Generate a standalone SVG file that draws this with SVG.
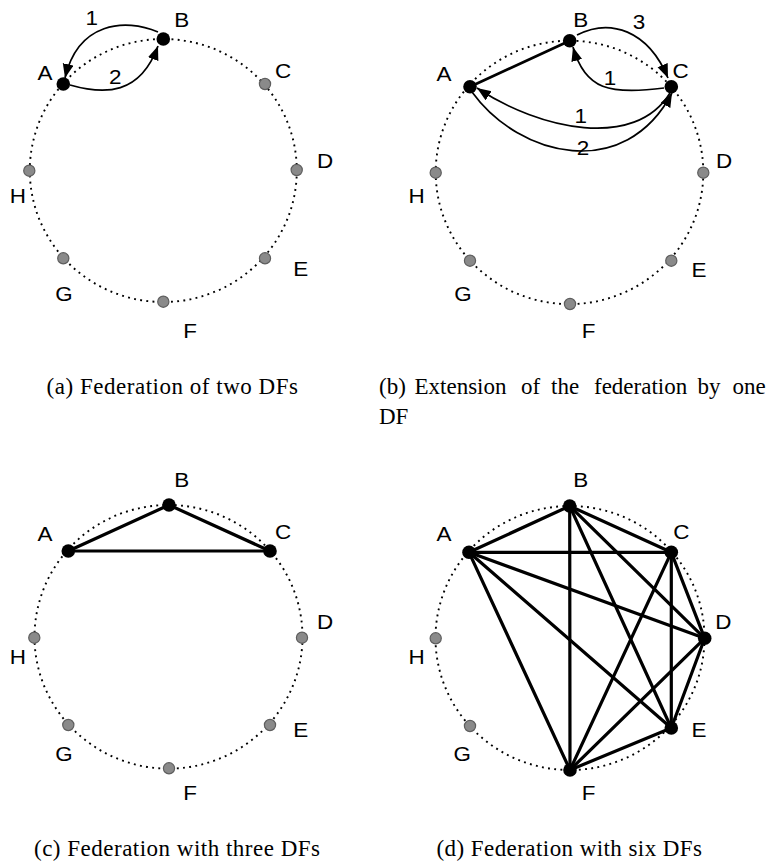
<svg xmlns="http://www.w3.org/2000/svg" width="768" height="862" viewBox="0 0 768 862">
<defs>
<marker id="ah" markerUnits="userSpaceOnUse" markerWidth="16" markerHeight="12" refX="14" refY="5.5" orient="auto">
<path d="M0,0 L14,5.5 L0,11 z" fill="#000"/>
</marker>
<style>
.ring{fill:none;stroke:#000;stroke-width:1.9;stroke-dasharray:1.9 4.3}
.gn{fill:#8a8a8a;stroke:#5e5e5e;stroke-width:1.2}
.bn{fill:#000}
.lbl{font-family:"Liberation Sans",Arial,Helvetica,sans-serif;font-size:19.5px;text-anchor:middle;fill:#000}
.cap{font-family:"Liberation Serif","Times New Roman",serif;font-size:23px;fill:#000}
.arc{fill:none;stroke:#000;stroke-width:1.7;marker-end:url(#ah)}
.thick{stroke:#000;stroke-width:3.2;stroke-linecap:round;fill:none}
</style>
</defs>
<rect width="768" height="862" fill="#fff"/>

<g id="rings">
<ellipse class="ring" cx="163.3" cy="170.5" rx="133.5" ry="131.5"/>
<ellipse class="ring" cx="569.5" cy="172.4" rx="133.8" ry="131.7"/>
<ellipse class="ring" cx="168.5" cy="636.8" rx="134" ry="131.8"/>
<ellipse class="ring" cx="570" cy="638" rx="134.5" ry="132"/>
</g>

<g id="connectors">
<path class="arc" d="M158,32 C125,18 78,22 65,78"/>
<path class="arc" d="M70,85 C105,95 140,95 158,46"/>
<line class="thick" x1="470" y1="86.7" x2="569.7" y2="40.7" style="stroke-width:2.8"/>
<path class="arc" d="M577,35 C610,18 648,30 668,78"/>
<path class="arc" d="M664,88 C610,95 585,90 573,47"/>
<path class="arc" d="M670,93 C635,150 540,130 477,88"/>
<path class="arc" d="M472,92 C520,158 625,182 672,93"/>
<line class="thick" x1="68.3" y1="551" x2="169" y2="505"/>
<line class="thick" x1="169" y1="505" x2="270" y2="551"/>
<line class="thick" x1="68.3" y1="551" x2="270" y2="551"/>
<line class="thick" x1="469" y1="552.3" x2="569.7" y2="506"/>
<line class="thick" x1="469" y1="552.3" x2="671.3" y2="552.3"/>
<line class="thick" x1="469" y1="552.3" x2="704.7" y2="638.3"/>
<line class="thick" x1="469" y1="552.3" x2="671.3" y2="728"/>
<line class="thick" x1="469" y1="552.3" x2="570" y2="770"/>
<line class="thick" x1="569.7" y1="506" x2="671.3" y2="552.3"/>
<line class="thick" x1="569.7" y1="506" x2="704.7" y2="638.3"/>
<line class="thick" x1="569.7" y1="506" x2="671.3" y2="728"/>
<line class="thick" x1="569.7" y1="506" x2="570" y2="770"/>
<line class="thick" x1="671.3" y1="552.3" x2="704.7" y2="638.3"/>
<line class="thick" x1="671.3" y1="552.3" x2="671.3" y2="728"/>
<line class="thick" x1="671.3" y1="552.3" x2="570" y2="770"/>
<line class="thick" x1="704.7" y1="638.3" x2="671.3" y2="728"/>
<line class="thick" x1="704.7" y1="638.3" x2="570" y2="770"/>
<line class="thick" x1="671.3" y1="728" x2="570" y2="770"/>
</g>

<g id="edge-labels">
<text class="lbl" x="91.7" y="25" textLength="12.5" lengthAdjust="spacingAndGlyphs">1</text>
<text class="lbl" x="115.3" y="84" textLength="12.5" lengthAdjust="spacingAndGlyphs">2</text>
<text class="lbl" x="639" y="29.3" textLength="12.5" lengthAdjust="spacingAndGlyphs">3</text>
<text class="lbl" x="610" y="85" textLength="12.5" lengthAdjust="spacingAndGlyphs">1</text>
<text class="lbl" x="580.7" y="123.3" textLength="12.5" lengthAdjust="spacingAndGlyphs">1</text>
<text class="lbl" x="583" y="155" textLength="12.5" lengthAdjust="spacingAndGlyphs">2</text>
</g>

<g id="a-A"><circle class="bn" cx="63.3" cy="84" r="6.8"/><text class="lbl" x="45" y="80" textLength="15" lengthAdjust="spacingAndGlyphs">A</text></g>
<g id="a-B"><circle class="bn" cx="163.3" cy="39" r="6.8"/><text class="lbl" x="181.7" y="26.7" textLength="15" lengthAdjust="spacingAndGlyphs">B</text></g>
<g id="a-C"><circle class="gn" cx="265" cy="84" r="5.6"/><text class="lbl" x="283" y="78.3" textLength="16.2" lengthAdjust="spacingAndGlyphs">C</text></g>
<g id="a-D"><circle class="gn" cx="296.7" cy="170" r="5.6"/><text class="lbl" x="325" y="168.3" textLength="16.2" lengthAdjust="spacingAndGlyphs">D</text></g>
<g id="a-E"><circle class="gn" cx="265" cy="258.3" r="5.6"/><text class="lbl" x="300.8" y="276" textLength="15" lengthAdjust="spacingAndGlyphs">E</text></g>
<g id="a-F"><circle class="gn" cx="163.3" cy="301.7" r="5.6"/><text class="lbl" x="190" y="338" textLength="13.7" lengthAdjust="spacingAndGlyphs">F</text></g>
<g id="a-G"><circle class="gn" cx="63.3" cy="258.3" r="5.6"/><text class="lbl" x="64" y="300.7" textLength="17.4" lengthAdjust="spacingAndGlyphs">G</text></g>
<g id="a-H"><circle class="gn" cx="29.3" cy="170.7" r="5.6"/><text class="lbl" x="17.8" y="203.3" textLength="16.2" lengthAdjust="spacingAndGlyphs">H</text></g>

<g id="b-A"><circle class="bn" cx="470" cy="86.7" r="6.8"/><text class="lbl" x="444" y="81" textLength="15" lengthAdjust="spacingAndGlyphs">A</text></g>
<g id="b-B"><circle class="bn" cx="569.7" cy="40.7" r="6.8"/><text class="lbl" x="580.8" y="26.7" textLength="15" lengthAdjust="spacingAndGlyphs">B</text></g>
<g id="b-C"><circle class="bn" cx="671.3" cy="86.7" r="6.8"/><text class="lbl" x="680.7" y="78.3" textLength="16.2" lengthAdjust="spacingAndGlyphs">C</text></g>
<g id="b-D"><circle class="gn" cx="703.3" cy="172.7" r="5.6"/><text class="lbl" x="724" y="168.3" textLength="16.2" lengthAdjust="spacingAndGlyphs">D</text></g>
<g id="b-E"><circle class="gn" cx="671.3" cy="260.7" r="5.6"/><text class="lbl" x="699" y="276.7" textLength="15" lengthAdjust="spacingAndGlyphs">E</text></g>
<g id="b-F"><circle class="gn" cx="570" cy="304" r="5.6"/><text class="lbl" x="588.7" y="338" textLength="13.7" lengthAdjust="spacingAndGlyphs">F</text></g>
<g id="b-G"><circle class="gn" cx="470" cy="260.7" r="5.6"/><text class="lbl" x="463" y="300.7" textLength="17.4" lengthAdjust="spacingAndGlyphs">G</text></g>
<g id="b-H"><circle class="gn" cx="435.7" cy="172.7" r="5.6"/><text class="lbl" x="416.7" y="203.3" textLength="16.2" lengthAdjust="spacingAndGlyphs">H</text></g>

<g id="c-A"><circle class="bn" cx="68.3" cy="551" r="6.8"/><text class="lbl" x="45" y="541" textLength="15" lengthAdjust="spacingAndGlyphs">A</text></g>
<g id="c-B"><circle class="bn" cx="169" cy="505" r="6.8"/><text class="lbl" x="181.7" y="487.3" textLength="15" lengthAdjust="spacingAndGlyphs">B</text></g>
<g id="c-C"><circle class="bn" cx="270" cy="551" r="6.8"/><text class="lbl" x="283" y="539.3" textLength="16.2" lengthAdjust="spacingAndGlyphs">C</text></g>
<g id="c-D"><circle class="gn" cx="302" cy="637.7" r="5.6"/><text class="lbl" x="325" y="629" textLength="16.2" lengthAdjust="spacingAndGlyphs">D</text></g>
<g id="c-E"><circle class="gn" cx="270" cy="725" r="5.6"/><text class="lbl" x="300.8" y="737.3" textLength="15" lengthAdjust="spacingAndGlyphs">E</text></g>
<g id="c-F"><circle class="gn" cx="169" cy="768.3" r="5.6"/><text class="lbl" x="190" y="800" textLength="13.7" lengthAdjust="spacingAndGlyphs">F</text></g>
<g id="c-G"><circle class="gn" cx="68.3" cy="725" r="5.6"/><text class="lbl" x="64" y="760.7" textLength="17.4" lengthAdjust="spacingAndGlyphs">G</text></g>
<g id="c-H"><circle class="gn" cx="34.3" cy="637.7" r="5.6"/><text class="lbl" x="17.8" y="664" textLength="16.2" lengthAdjust="spacingAndGlyphs">H</text></g>

<g id="d-A"><circle class="bn" cx="469" cy="552.3" r="6.8"/><text class="lbl" x="444" y="541" textLength="15" lengthAdjust="spacingAndGlyphs">A</text></g>
<g id="d-B"><circle class="bn" cx="569.7" cy="506" r="6.8"/><text class="lbl" x="580.8" y="487.3" textLength="15" lengthAdjust="spacingAndGlyphs">B</text></g>
<g id="d-C"><circle class="bn" cx="671.3" cy="552.3" r="6.8"/><text class="lbl" x="681.3" y="539.3" textLength="16.2" lengthAdjust="spacingAndGlyphs">C</text></g>
<g id="d-D"><circle class="bn" cx="704.7" cy="638.3" r="6.8"/><text class="lbl" x="723.3" y="629" textLength="16.2" lengthAdjust="spacingAndGlyphs">D</text></g>
<g id="d-E"><circle class="bn" cx="671.3" cy="728" r="6.8"/><text class="lbl" x="699" y="737.3" textLength="15" lengthAdjust="spacingAndGlyphs">E</text></g>
<g id="d-F"><circle class="bn" cx="570" cy="770" r="6.8"/><text class="lbl" x="588.7" y="800" textLength="13.7" lengthAdjust="spacingAndGlyphs">F</text></g>
<g id="d-G"><circle class="gn" cx="470" cy="726" r="5.6"/><text class="lbl" x="462.3" y="760.7" textLength="17.4" lengthAdjust="spacingAndGlyphs">G</text></g>
<g id="d-H"><circle class="gn" cx="435.7" cy="638.3" r="5.6"/><text class="lbl" x="416.7" y="664" textLength="16.2" lengthAdjust="spacingAndGlyphs">H</text></g>

<g id="captions">
<text class="cap" x="46.5" y="394" textLength="251.5" lengthAdjust="spacing">(a) Federation of two DFs</text>
<text class="cap" y="394"><tspan x="379">(b)</tspan><tspan x="414.5">Extension</tspan><tspan x="521">of</tspan><tspan x="551">the</tspan><tspan x="594">federation</tspan><tspan x="697.5">by</tspan><tspan x="732.5">one</tspan></text>
<text class="cap" x="379" y="424">DF</text>
<text class="cap" x="34" y="856" textLength="286" lengthAdjust="spacing">(c) Federation with three DFs</text>
<text class="cap" x="436.5" y="856" textLength="265.5" lengthAdjust="spacing">(d) Federation with six DFs</text>
</g>
</svg>
